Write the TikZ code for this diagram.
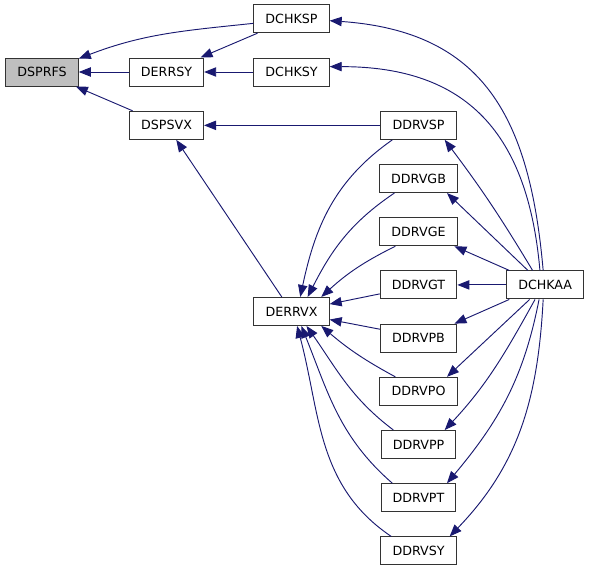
\documentclass[tikz,border=0pt]{standalone}
\usepackage{fontspec}
\setsansfont{DejaVu Sans}
\RequirePackage{xcolor}
\definecolor{callblue}{HTML}{191970}
\definecolor{rootgray}{HTML}{BFBFBF}
\tikzset{every picture/.style={/utils/exec={\sffamily}}}
\usetikzlibrary{calc}
\usetikzlibrary{positioning}
\usetikzlibrary{arrows.meta}
\tikzset{node distance=39.9pt, on grid, % rows of the call graph
  func/.style={                 % one routine
    draw=black!80, fill=white, line width=0.75pt,
    rectangle, minimum height=21pt, inner xsep=8.7pt,
    font=\fontsize{9.5pt}{11pt}\selectfont},
  root/.style={func, fill=rootgray},
  every edge/.style={           % one call, arrow at the callee
    draw=callblue, line width=0.7pt,
    -{Triangle[length=9pt,width=7pt]}}}

\begin{document}
\begin{tikzpicture}
  \useasboundingbox (0,0) rectangle (441.75pt,-428.25pt);

  \node [root] (dsprfs) at (31.5pt,-54pt) {DSPRFS};
  \node [func, right=93.4pt of dsprfs] (derrsy) {DERRSY};
  \node [func, right=93.75pt of derrsy] (dchksy) {DCHKSY};
  \node [func, above=40pt of dchksy] (dchksp) {DCHKSP};
  \node [func, below=40pt of derrsy] (dspsvx) {DSPSVX};

  \node [func, right=189pt of dspsvx] (ddrvsp) {DDRVSP};
  \node [func, below=of ddrvsp] (ddrvgb) {DDRVGB};
  \node [func, below=of ddrvgb] (ddrvge) {DDRVGE};
  \node [func, below=of ddrvge] (ddrvgt) {DDRVGT};
  \node [func, below=of ddrvgt] (ddrvpb) {DDRVPB};
  \node [func, below=of ddrvpb] (ddrvpo) {DDRVPO};
  \node [func, below=of ddrvpo] (ddrvpp) {DDRVPP};
  \node [func, below=of ddrvpp] (ddrvpt) {DDRVPT};
  \node [func, below=of ddrvpt] (ddrvsy) {DDRVSY};

  \node [func, below left=19.9pt and 95.25pt of ddrvgt] (derrvx) {DERRVX};
  \node [func, right=95pt of ddrvgt] (dchkaa) {DCHKAA};

  % left part
  \draw (dchksp.187) edge[out=186, in=21] (dsprfs.20);
  \draw (dchksp) edge (derrsy);
  \draw (derrsy) edge (dsprfs);
  \draw (dchksy) edge (derrsy);
  \draw (dspsvx) edge (dsprfs);
  \draw (ddrvsp) edge (dspsvx);
  \draw (derrvx) edge (dspsvx);

  % DCHKAA fan
  \draw (dchkaa.98) edge[out=95, in=-4, looseness=1.2] (dchksp.-3);
  \draw (dchkaa.110) edge[out=95, in=0, looseness=1.2] (dchksy.8);
  \draw (dchkaa.131) edge[out=121, in=-53] (ddrvsp.-29);
  \draw (dchkaa.140) edge (ddrvgb.-27);
  \draw (dchkaa.158) edge (ddrvge.-22);
  \draw (dchkaa) edge (ddrvgt);
  \draw (dchkaa.-158) edge (ddrvpb.22);
  \draw (dchkaa.-137) edge (ddrvpo.27);
  \draw (dchkaa.-125) edge[out=-119, in=47] (ddrvpp.29);
  \draw (dchkaa.-113) edge[out=-101, in=50] (ddrvpt.27);
  \draw (dchkaa.-98) edge[out=-93, in=46] (ddrvsy.25);

  % drivers into DERRVX
  \draw (ddrvsp.209) edge[out=215, in=78] (derrvx.59);
  \draw (ddrvgb.211) edge[out=214, in=63] (derrvx.42);
  \draw (ddrvge.212) edge[bend right=8] (derrvx.26);
  \draw (ddrvgt.-167) edge (derrvx.11);
  \draw (ddrvpb.167) edge (derrvx.-12);
  \draw (ddrvpo.148) edge[bend left=6] (derrvx.-26);
  \draw (ddrvpp.150) edge[out=143, in=-55] (derrvx.-44);
  \draw (ddrvpt.151) edge[out=139, in=-68] (derrvx.-56);
  \draw (ddrvsy.152) edge[out=146, in=-75] (derrvx.-69);
\end{tikzpicture}
\end{document}
